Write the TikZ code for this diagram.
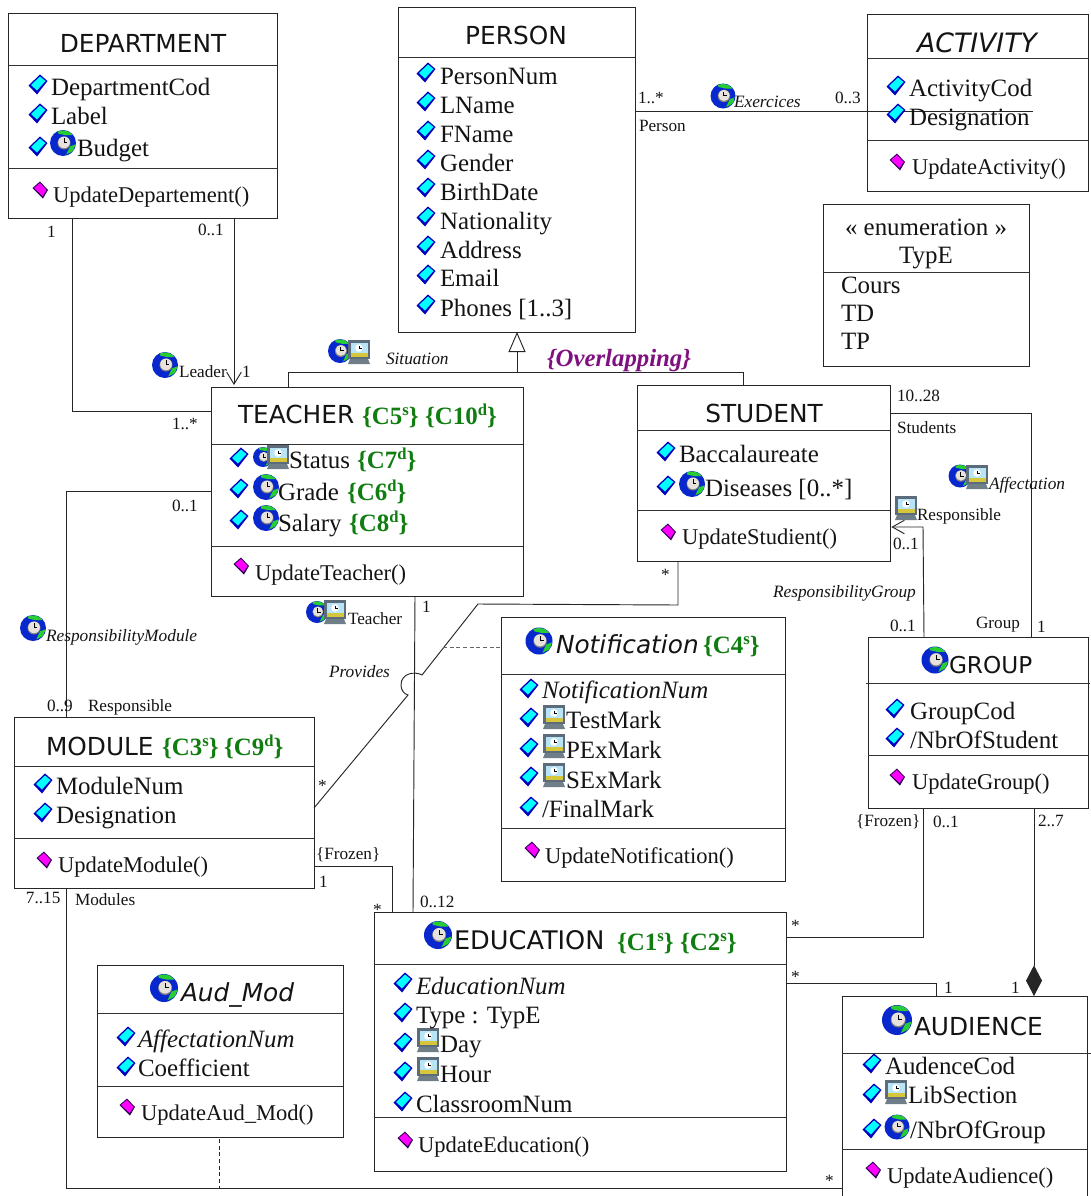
\documentclass[tikz,border=0pt]{standalone}
\usepackage{fontspec}
\usepackage{xcolor}
\setmainfont{Liberation Serif}
\newfontfamily\ttlfont{DejaVu Sans}
\usetikzlibrary{arrows.meta}
\definecolor{cgreen}{RGB}{16,125,16}
\definecolor{cpurple}{RGB}{128,16,128}
\definecolor{gblue}{RGB}{8,40,205}
\definecolor{ggreen}{RGB}{40,205,50}
\definecolor{dcyan}{RGB}{0,255,255}
\definecolor{dblue}{RGB}{0,0,190}
\definecolor{dmag}{RGB}{255,0,255}
\definecolor{dmagedge}{RGB}{50,0,90}
\definecolor{mframe}{RGB}{92,108,122}
\definecolor{mbase}{RGB}{112,126,136}
\definecolor{msky}{RGB}{185,228,245}
\definecolor{myel}{RGB}{214,198,60}
\definecolor{ckface}{RGB}{232,226,220}
\tikzset{
  cls/.style={draw=black!85,line width=0.75pt,inner sep=0pt,outer sep=0pt,fill=none},
  sepline/.style={draw=black!80,line width=0.75pt},
  conn/.style={draw=black!85,line width=0.7pt},
  txtnode/.style={inner sep=0pt,outer sep=0pt,text=black!92},
  smalltxt/.style={txtnode,anchor=base west,font=\fontsize{12.9}{14}\selectfont},
  smallit/.style={txtnode,anchor=base west,font=\fontsize{13}{14}\selectfont\itshape},
  attrtxt/.style={txtnode,anchor=base west,font=\fontsize{18.7}{20}\selectfont},
  methtxt/.style={txtnode,anchor=base west,font=\fontsize{16.9}{19}\selectfont},
  titletxt/.style={txtnode,anchor=base,font=\fontsize{18.6}{20}\ttlfont},
  titleleft/.style={txtnode,anchor=base west,font=\fontsize{18.6}{20}\ttlfont},
  titleit/.style={txtnode,anchor=base west,font=\fontsize{18.6}{20}\ttlfont\itshape},
}
\newcounter{lblc}
\newcommand{\placetxt}[4]{\stepcounter{lblc}\node[#1] (lbl\arabic{lblc}) at (#2,#3) {#4};}
\newcommand{\lab}[3]{\placetxt{smalltxt}{#1}{#2}{#3}}
\newcommand{\labit}[3]{\placetxt{smallit}{#1}{#2}{#3}}
\newcommand{\attrib}[3]{\placetxt{attrtxt}{#1}{#2}{#3}}
\newcommand{\methd}[3]{\placetxt{methtxt}{#1}{#2}{#3}}
\newcommand{\cons}[2]{\textcolor{cgreen}{\bfseries\{#1\raisebox{.36em}{\fontsize{12.5}{13}\selectfont #2}\}}}
\newcommand{\classbox}[5]{\node[cls,minimum width={(#4-#2)*0.75pt},minimum height={(#5-#3)*0.75pt}] (#1) at ({(#2+#4)/2},{(#3+#5)/2}) {};}
\newcommand{\sepat}[2]{\draw[sepline] (#1.west |- 0,#2) -- (#1.east |- 0,#2);}
\newcommand{\diaicon}[2]{\begin{scope}[shift={(#1,#2)}]
  \fill[dblue] (-9.5,1.5) -- (2,-9.5) -- (9.5,-3) -- (-1,10.5) -- cycle;
  \fill[dcyan] (-7,1) -- (2,-7.5) -- (7.5,-3) -- (-1,6.5) -- cycle;
\end{scope}}
\newcommand{\magicon}[2]{\begin{scope}[shift={(#1,#2)}]
  \fill[dmagedge] (-7.5,-2) -- (0,-8.5) -- (8,0) -- (3,8.5) -- cycle;
  \fill[dmag] (-6,-2) -- (0,-7) -- (6.5,0) -- (2.5,6) -- cycle;
\end{scope}}
\newcommand{\globeicon}[3]{\begin{scope}[shift={(#1,#2)},scale=#3]
  \fill[gblue] (0,0) circle (1);
  \begin{scope}
    \clip (0,0) circle (.97);
    \fill[ggreen] (-.45,-.98) -- (.45,-1) -- (.75,-.6) -- (.2,-.6) -- (-.35,-.72) -- cycle;
    \fill[ggreen] (.55,.25) -- (.98,.1) -- (.8,.6) -- (.25,.88) -- (.4,.55) -- cycle;
  \end{scope}
  \fill[black!50] (.08,0) circle (.5);
  \fill[ckface] (.08,-.05) circle (.45);
  \draw[black,line width=.4pt] (.06,-.35) -- (.06,-.02) -- (.34,-.02);
\end{scope}}
\newcommand{\monicon}[2]{\begin{scope}[shift={(#1,#2)}]
  \fill[mframe] (-11,-12) rectangle (11,7);
  \fill[mbase] (-9,7) -- (9,7) -- (11,12) -- (-11,12) -- cycle;
  \fill[msky] (-8.5,-9) rectangle (8.5,1);
  \fill[myel] (-8.5,1) rectangle (8.5,5);
  \fill[white] (0,-4) circle (3.8);
  \draw[black,line width=.3pt] (0,-6.5) -- (0,-4) -- (2.5,-4);
\end{scope}}
\begin{document}
\begin{tikzpicture}[x=0.75pt,y=-0.75pt]
\useasboundingbox (0,0) rectangle (1091,1196);
\fill[white] (0,0) rectangle (1091,1196);
% ---------- class boxes
\classbox{dept}{8}{13}{277}{218}
\classbox{person}{398}{7}{635}{332}
\classbox{activity}{867}{14}{1088}{191}
\classbox{enumt}{823}{204}{1029}{366}
\classbox{teacher}{211}{387}{523}{596}
\classbox{student}{637}{385}{890}{561}
\classbox{group}{868}{637}{1088}{808}
\classbox{notif}{501}{617}{785}{881}
\classbox{module}{14}{717}{314}{888}
\classbox{educ}{374}{912}{786}{1171}
\classbox{audmod}{97}{965}{343}{1137}
\classbox{audience}{842}{996}{1087}{1206}
\sepat{dept}{65}\sepat{dept}{168}
\sepat{person}{57}
\sepat{activity}{58}\sepat{activity}{140}
\sepat{enumt}{272}
\sepat{teacher}{444}\sepat{teacher}{546}
\sepat{student}{430}\sepat{student}{510}
\draw[sepline] ([xshift=-1.5pt]group.west |- 0,683) -- ([xshift=1.5pt]group.east |- 0,683);
\sepat{group}{755}
\sepat{notif}{674}\sepat{notif}{828}
\sepat{module}{766}\sepat{module}{838}
\sepat{educ}{964}\sepat{educ}{1117}
\sepat{audmod}{1013}\sepat{audmod}{1086}
\draw[sepline] (audience.west |- 0,1053) -- ([xshift=3pt]audience.east |- 0,1053);
\sepat{audience}{1149}
% ---------- connectors
\draw[conn] (person.east |- 0,111) -- (1033,111);
\draw[conn] (dept.south -| 72,0) -- (72,411) -- (teacher.west |- 0,411);
\draw[conn,shorten >=1.5pt,-{Straight Barb[length=9pt,width=11pt]}] (dept.south -| 234,0) -- (teacher.north -| 234,0);
\draw[conn] (teacher.north -| 288,0) -- (288,372) -- (743,372) -- (student.north -| 743,0);
\draw[conn,-{Triangle[open,length=15pt,width=12.75pt]}] (517,372) -- (person.south -| 517,0);
\draw[conn] (teacher.west |- 0,491) -- (66,491) -- (module.north -| 66,0);
\draw[conn] (teacher.south -| 415,0) -- (educ.north -| 413,0);
\draw[conn] (student.south -| 678,0) -- (678,605) -- (478,604) -- (422,675) .. controls (415,671) and (401,673) .. (401,685) .. controls (401,690) and (404,694) .. (408,695) -- (module.east |- 0,808);
\draw[conn,densely dashed,black!60,line width=.6pt] (443,647) -- (notif.west |- 0,647);
\draw[conn] (module.east |- 0,866) -- (392,866) -- (educ.north -| 392,0);
\draw[conn] (module.south -| 66,0) -- (66,1188) -- (audience.west |- 0,1188);
\draw[conn,densely dashed,line width=.6pt] (audmod.south -| 219,0) ++(0,2) -- (219,1188);
\draw[conn,shorten >=1pt,-{Straight Barb[length=9pt,width=10pt]}] (group.north -| 924,0) -- (923,527) -- (student.east |- 0,527);
\draw[conn] (student.east |- 0,413) -- (1031,413) -- (group.north -| 1031,0);
\draw[conn] (group.south -| 923,0) -- (923,937) -- (educ.east |- 0,937);
\draw[conn,-{Diamond[length=23pt,width=12pt]}] (group.south -| 1034,0) -- (audience.north -| 1034,0);
\draw[conn] (educ.east |- 0,983) -- (936,983) -- (audience.north -| 936,0);
% ---------- DEPARTMENT
\placetxt{titletxt}{143}{52}{DEPARTMENT}
\diaicon{38}{84}\diaicon{38}{113}\diaicon{38}{146}\globeicon{63}{143}{13}\magicon{40}{190}
\attrib{51}{95}{DepartmentCod}\attrib{51}{124}{Label}\attrib{77}{156}{Budget}
\methd{53}{202}{UpdateDepartement()}
\lab{47}{237}{1}\lab{198}{235}{0..1}
% ---------- PERSON
\placetxt{titletxt}{516}{44}{PERSON}
\diaicon{426}{72}\diaicon{426}{101}\diaicon{426}{130}\diaicon{426}{159}\diaicon{426}{187}\diaicon{426}{216}\diaicon{426}{245}\diaicon{426}{274}\diaicon{426}{304}
\attrib{440}{84}{PersonNum}\attrib{440}{113}{LName}\attrib{440}{142}{FName}\attrib{440}{171}{Gender}\attrib{440}{200}{BirthDate}\attrib{440}{229}{Nationality}\attrib{440}{258}{Address}\attrib{440}{286}{Email}\attrib{440}{316}{Phones [1..3]}
% ---------- ACTIVITY
\placetxt{titletxt,font=\fontsize{20}{22}\ttlfont\itshape}{977}{52}{ACTIVITY}
\diaicon{896}{85}\diaicon{896}{113}\magicon{897}{162}
\attrib{909}{96}{ActivityCod}\attrib{909}{125}{Designation}\methd{912}{174}{UpdateActivity()}
\globeicon{723}{96}{12.5}
\labit{734}{107}{Exercices}
\lab{638}{103}{1..*}\lab{639}{131}{Person}\lab{835}{103}{0..3}
% ---------- enumeration
\placetxt{attrtxt,anchor=base}{926}{235}{« enumeration »}
\placetxt{attrtxt,anchor=base}{926}{263}{TypE}
\attrib{841}{293}{Cours}\attrib{841}{321}{TD}\attrib{841}{349}{TP}
% ---------- generalisation labels
\globeicon{340}{351}{12}\monicon{359}{352}
\labit{386}{364}{Situation}
\placetxt{attrtxt,font=\fontsize{18.6}{20}\selectfont\bfseries\itshape,text=cpurple}{547}{366}{\{Overlapping\}}
\globeicon{165}{365}{13}
\lab{179}{377}{Leader}\lab{242}{377}{1}
% ---------- TEACHER
\placetxt{titleleft}{238}{423}{TEACHER}
\placetxt{attrtxt}{362}{424}{\cons{C5}{s}}\placetxt{attrtxt}{425}{424}{\cons{C10}{d}}
\diaicon{239}{457}\diaicon{239}{488}\diaicon{239}{519}\magicon{241}{566}
\globeicon{263}{457}{10}\monicon{278}{457}
\globeicon{266}{487}{13}\globeicon{266}{518}{13}
\attrib{289}{468}{Status}\placetxt{attrtxt}{357}{468}{\cons{C7}{d}}
\attrib{278}{500}{Grade}\placetxt{attrtxt}{347}{500}{\cons{C6}{d}}
\attrib{278}{531}{Salary}\placetxt{attrtxt}{349}{531}{\cons{C8}{d}}
\methd{255}{580}{UpdateTeacher()}
\lab{172}{429}{1..*}\lab{172}{511}{0..1}
\globeicon{317}{612}{11}\monicon{335}{612}
\lab{348}{624}{Teacher}\lab{422}{612}{1}
\labit{329}{677}{Provides}
% ---------- STUDENT
\placetxt{titletxt}{764}{422}{STUDENT}
\diaicon{666}{451}\diaicon{666}{485}\magicon{668}{532}\globeicon{692}{484}{13}
\attrib{679}{462}{Baccalaureate}\attrib{705}{496}{Diseases [0..*]}
\methd{682}{544}{UpdateStudient()}
\lab{897}{401}{10..28}\lab{897}{433}{Students}\lab{661}{580}{*}
\globeicon{960}{476}{11.5}\monicon{977}{477}
\labit{989}{489}{Affectation}
\monicon{906}{508}\lab{917}{520}{Responsible}
\lab{893}{549}{0..1}\labit{773}{597}{ResponsibilityGroup}
\lab{890}{631}{0..1}\lab{976}{628}{Group}\lab{1037}{632}{1}
% ---------- GROUP
\globeicon{935}{660}{13.5}
\placetxt{titleleft,font=\fontsize{17.4}{20}\ttlfont}{949}{673}{GROUP}
\diaicon{895}{708}\diaicon{895}{737}\magicon{897}{777}
\attrib{910}{719}{GroupCod}\attrib{910}{748}{/NbrOfStudent}\methd{912}{789}{UpdateGroup()}
\lab{856}{826}{\{Frozen\}}\lab{933}{827}{0..1}\lab{1038}{826}{2..7}
% ---------- NOTIFICATION
\globeicon{539}{641}{13.5}
\placetxt{titleit}{556}{653}{Notification}
\placetxt{attrtxt}{703}{653}{\cons{C4}{s}}
\diaicon{529}{688}\diaicon{529}{717}\diaicon{529}{747}\diaicon{529}{776}\diaicon{529}{806}\magicon{532}{850}
\monicon{554}{717}\monicon{554}{746}\monicon{554}{775}
\attrib{542}{698}{\itshape NotificationNum}
\attrib{566}{728}{TestMark}\attrib{566}{758}{PExMark}\attrib{566}{788}{SExMark}\attrib{542}{817}{/FinalMark}
\methd{545}{863}{UpdateNotification()}
% ---------- MODULE
\placetxt{titleleft}{46}{755}{MODULE}
\placetxt{attrtxt}{162}{755}{\cons{C3}{s}}\placetxt{attrtxt}{224}{755}{\cons{C9}{d}}
\diaicon{43}{783}\diaicon{43}{812}\magicon{44}{860}
\attrib{56}{794}{ModuleNum}\attrib{56}{823}{Designation}\methd{58}{872}{UpdateModule()}
\globeicon{33}{628}{13}
\labit{46}{641}{ResponsibilityModule}
\lab{47}{711}{0..9}\lab{88}{711}{Responsible}
\lab{26}{903}{7..15}\lab{75}{905}{Modules}
\lab{318}{791}{*}\lab{316}{859}{\{Frozen\}}\lab{319}{887}{1}
% ---------- EDUCATION
\globeicon{438}{935}{14}
\placetxt{titleleft,font=\fontsize{19.2}{20}\ttlfont}{454}{949}{EDUCATION}
\placetxt{attrtxt}{617}{950}{\cons{C1}{s}}\placetxt{attrtxt}{680}{950}{\cons{C2}{s}}
\diaicon{403}{982}\diaicon{403}{1012}\diaicon{403}{1042}\diaicon{403}{1071}\diaicon{403}{1101}\magicon{405}{1140}
\monicon{428}{1040}\monicon{428}{1069}
\attrib{416}{994}{\itshape EducationNum}\attrib{416}{1023}{Type : TypE}
\attrib{440}{1052}{Day}\attrib{440}{1082}{Hour}\attrib{416}{1112}{ClassroomNum}
\methd{418}{1152}{UpdateEducation()}
\lab{373}{915}{*}\lab{420}{907}{0..12}
\lab{791}{931}{*}\lab{791}{982}{*}\lab{825}{1186}{*}
% ---------- Aud_Mod
\globeicon{164}{988}{14}
\placetxt{titleit}{181}{1001}{Aud\_Mod}
\diaicon{126}{1036}\diaicon{126}{1066}\magicon{127}{1107}
\attrib{138}{1047}{\itshape AffectationNum}\attrib{138}{1076}{Coefficient}
\methd{141}{1120}{UpdateAud\_Mod()}
% ---------- AUDIENCE
\globeicon{897}{1020}{15}
\placetxt{titleleft}{914}{1035}{AUDIENCE}
\diaicon{872}{1063}\diaicon{872}{1093}\diaicon{872}{1128}\magicon{873}{1170}
\monicon{896}{1092}\globeicon{897}{1127}{12.5}
\attrib{885}{1074}{AudenceCod}\attrib{908}{1103}{LibSection}\attrib{910}{1138}{/NbrOfGroup}
\methd{887}{1183}{UpdateAudience()}
\lab{944}{993}{1}\lab{1011}{993}{1}
\end{tikzpicture}
\end{document}
